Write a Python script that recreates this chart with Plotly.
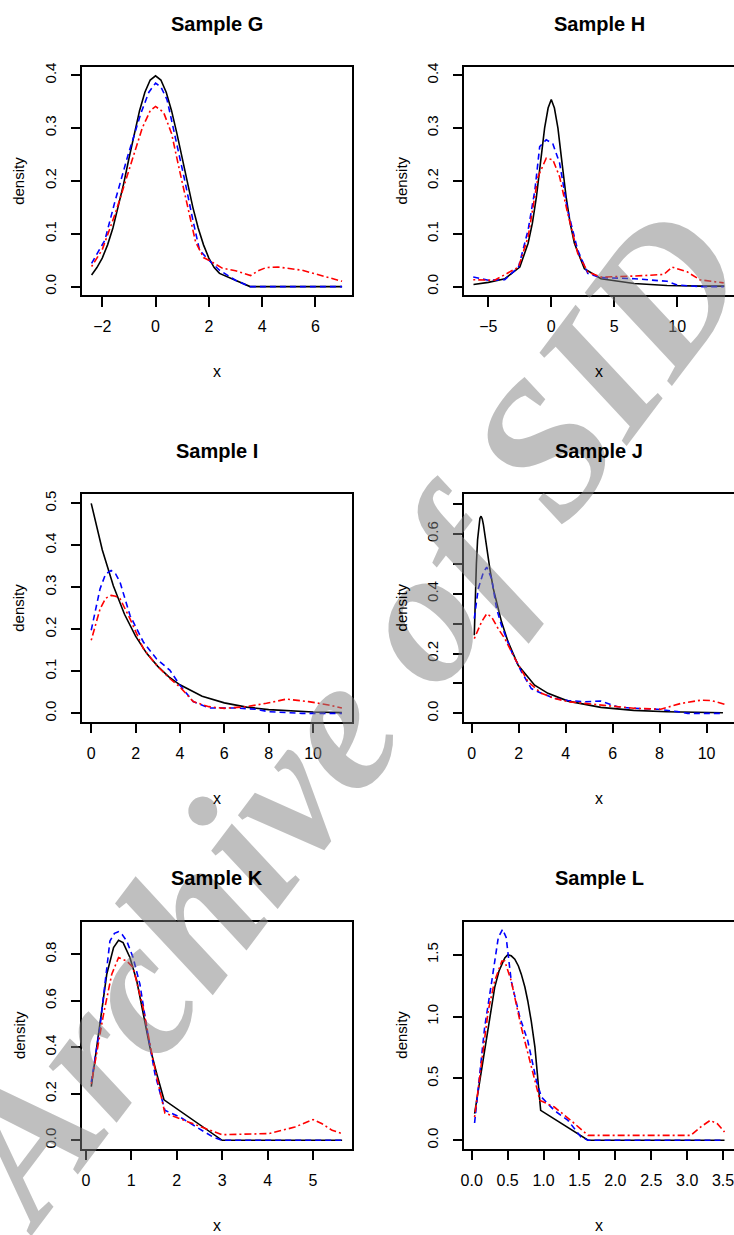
import plotly.graph_objects as go

# Sample G
g_true_x = [-2.4, -2.2, -2.0, -1.8, -1.6, -1.4, -1.2, -1.0, -0.8, -0.6, -0.4, -0.2, 0.0,
            0.2, 0.4, 0.6, 0.8, 1.0, 1.2, 1.4, 1.6, 1.8, 2.0, 2.2, 2.4, 3.55, 7.0]
g_true = [0.022, 0.036, 0.054, 0.079, 0.111, 0.150, 0.194, 0.242, 0.290, 0.333, 0.368, 0.391, 0.399,
          0.391, 0.368, 0.333, 0.290, 0.242, 0.194, 0.150, 0.111, 0.079, 0.054, 0.036, 0.025, 0.0, 0.0]
g_blue_x = [-2.4, -1.9, -1.54, -1.05, -0.55, -0.25, 0.0, 0.2, 0.43, 0.8, 1.1, 1.4, 1.65, 2.0, 2.4, 3.0, 3.55,
            5.0, 7.0]
g_blue = [0.044, 0.088, 0.158, 0.246, 0.328, 0.368, 0.385, 0.378, 0.354, 0.27, 0.20, 0.126, 0.069, 0.05, 0.031,
          0.012, 0.0, 0.0, 0.0]
g_red_x = [-2.4, -2.0, -1.5, -1.0, -0.5, -0.2, 0.0, 0.3, 0.6, 0.9, 1.2, 1.5, 1.8, 2.0, 2.5, 3.0, 3.57,
           3.85, 4.15, 4.6, 5.5, 6.0, 6.5, 7.0]
g_red = [0.038, 0.07, 0.14, 0.222, 0.30, 0.333, 0.341, 0.33, 0.29, 0.22, 0.15, 0.085, 0.055, 0.05, 0.035, 0.03,
         0.021, 0.03, 0.036, 0.037, 0.031, 0.024, 0.017, 0.010]

# Sample H
h_true_x = [-6.18, -5.0, -3.68, -2.5, -1.84, -1.5, -1.18, -0.8, -0.53, -0.25, 0.0, 0.25, 0.53, 0.8, 1.18,
            1.5, 1.84, 2.63, 3.95, 6.58, 9.2, 12.0, 13.75]
h_true = [0.004, 0.008, 0.015, 0.037, 0.082, 0.12, 0.17, 0.245, 0.30, 0.338, 0.354, 0.338, 0.30, 0.245, 0.17,
          0.12, 0.082, 0.034, 0.015, 0.006, 0.002, 0.001, 0.001]
h_blue_x = [-6.2, -5.0, -3.7, -2.6, -1.84, -1.3, -0.92, -0.4, 0.13, 0.66, 1.3, 2.1, 2.9, 3.95, 6.6, 9.2, 10.0,
            11.8, 13.7]
h_blue = [0.018, 0.012, 0.013, 0.037, 0.107, 0.183, 0.265, 0.278, 0.27, 0.234, 0.145, 0.069, 0.025, 0.017, 0.015,
          0.010, 0.003, 0.0, 0.0]
h_red_x = [-6.2, -4.5, -2.6, -1.84, -1.05, -0.4, 0.13, 0.66, 1.3, 2.1, 2.9, 3.95, 6.6, 8.95, 9.6, 10.8, 11.8,
           13.7]
h_red = [0.013, 0.012, 0.037, 0.094, 0.208, 0.243, 0.24, 0.208, 0.139, 0.063, 0.028, 0.018, 0.02, 0.023, 0.037,
         0.028, 0.013, 0.007]

# Sample I
i_true_x = [0.0, 0.5, 1.0, 1.5, 2.0, 2.5, 3.0, 3.5, 4.0, 5.0, 6.0, 7.0, 8.0, 9.0, 10.0, 11.3]
i_true = [0.5, 0.389, 0.303, 0.236, 0.184, 0.143, 0.112, 0.087, 0.068, 0.041, 0.025, 0.015, 0.009, 0.0056,
          0.0034, 0.0018]
i_blue_x = [0.0, 0.4, 0.65, 0.9, 1.1, 1.3, 1.75, 2.35, 2.94, 3.54, 4.0, 4.6, 5.3, 6.5, 7.4, 8.0, 9.5, 11.3]
i_blue = [0.198, 0.297, 0.332, 0.340, 0.332, 0.312, 0.233, 0.17, 0.13, 0.103, 0.067, 0.028, 0.013, 0.013, 0.010,
          0.004, 0.0, 0.0]
i_red_x = [0.0, 0.4, 0.65, 0.9, 1.1, 1.3, 1.75, 2.35, 2.94, 3.54, 4.0, 4.6, 5.3, 6.0, 7.0, 7.9, 8.8, 9.8,
           10.7, 11.3]
i_red = [0.174, 0.249, 0.274, 0.281, 0.279, 0.273, 0.225, 0.154, 0.115, 0.083, 0.063, 0.028, 0.016, 0.012,
         0.016, 0.024, 0.034, 0.028, 0.02, 0.013]

# Sample J
j_true_x = [0.11, 0.15, 0.2, 0.25, 0.3, 0.35, 0.4, 0.45, 0.5, 0.55, 0.64, 0.78, 0.92, 1.1, 1.27, 1.55, 1.98,
            2.68, 3.25, 4.1, 5.5, 6.9, 8.3, 10.7]
j_true = [0.261, 0.38, 0.50, 0.58, 0.63, 0.652, 0.659, 0.65, 0.63, 0.60, 0.55, 0.48, 0.417, 0.355, 0.306,
          0.239, 0.161, 0.094, 0.067, 0.041, 0.02, 0.01, 0.0056, 0.002]
j_blue_x = [0.11, 0.28, 0.5, 0.64, 0.85, 1.06, 1.27, 1.7, 2.12, 2.54, 2.97, 3.53, 4.1, 4.8, 5.5, 6.2, 6.9, 7.9,
            8.76, 9.2, 10.7]
j_blue = [0.317, 0.417, 0.472, 0.489, 0.45, 0.35, 0.294, 0.206, 0.139, 0.083, 0.067, 0.05, 0.043, 0.039, 0.041,
          0.022, 0.017, 0.014, 0.006, 0.0, 0.0]
j_red_x = [0.11, 0.42, 0.64, 0.85, 1.13, 1.41, 1.84, 2.4, 2.97, 3.53, 4.1, 5.5, 6.9, 8.05, 8.9, 9.75, 10.2,
           10.8]
j_red = [0.25, 0.306, 0.333, 0.322, 0.283, 0.25, 0.183, 0.106, 0.067, 0.05, 0.039, 0.028, 0.017, 0.014, 0.033,
         0.044, 0.043, 0.03]

# Sample K
k_true_x = [0.12, 0.31, 0.46, 0.61, 0.72, 0.82, 0.97, 1.12, 1.26, 1.41, 1.56, 1.72, 3.0, 5.64]
k_true = [0.231, 0.514, 0.714, 0.829, 0.86, 0.85, 0.786, 0.686, 0.543, 0.4, 0.286, 0.174, 0.0, 0.0]
k_blue_x = [0.12, 0.31, 0.53, 0.63, 0.72, 0.8, 0.9, 1.04, 1.19, 1.34, 1.52, 1.74, 2.07, 2.5, 2.8, 3.0, 5.64]
k_blue = [0.25, 0.486, 0.857, 0.89, 0.897, 0.885, 0.857, 0.786, 0.671, 0.486, 0.286, 0.129, 0.1, 0.05, 0.014,
          0.0, 0.0]
k_red_x = [0.12, 0.39, 0.57, 0.72, 0.9, 1.04, 1.26, 1.48, 1.74, 2.07, 2.58, 3.0, 4.04, 4.6, 5.0, 5.2, 5.42,
           5.64]
k_red = [0.243, 0.543, 0.714, 0.786, 0.771, 0.743, 0.571, 0.343, 0.117, 0.093, 0.054, 0.024, 0.029, 0.057,
         0.089, 0.071, 0.043, 0.029]

# Sample L
l_true_x = [0.04, 0.1, 0.14, 0.2, 0.23, 0.3, 0.32, 0.38, 0.42, 0.46, 0.5, 0.55, 0.6, 0.65, 0.69, 0.74, 0.78,
            0.83, 0.88, 0.92, 0.96, 1.62, 3.52]
l_true = [0.215, 0.44, 0.59, 0.81, 0.914, 1.17, 1.237, 1.37, 1.425, 1.475, 1.5, 1.492, 1.465, 1.41, 1.344,
          1.24, 1.129, 0.96, 0.753, 0.52, 0.242, 0.0, 0.0]
l_blue_x = [0.04, 0.09, 0.18, 0.28, 0.37, 0.43, 0.48, 0.55, 0.67, 0.78, 0.9, 0.97, 1.15, 1.34, 1.52, 1.62, 3.52]
l_blue = [0.14, 0.43, 0.914, 1.29, 1.64, 1.707, 1.64, 1.29, 0.995, 0.806, 0.484, 0.35, 0.242, 0.161, 0.027, 0.0,
          0.0]
l_red_x = [0.04, 0.14, 0.23, 0.32, 0.42, 0.46, 0.55, 0.69, 0.83, 0.95, 1.15, 1.38, 1.62, 1.8, 3.05, 3.19, 3.32,
           3.42, 3.52]
l_red = [0.188, 0.618, 1.048, 1.29, 1.45, 1.45, 1.29, 0.914, 0.591, 0.323, 0.269, 0.161, 0.04, 0.04, 0.04, 0.108,
         0.161, 0.134, 0.067]

titles = ["Sample G", "Sample H", "Sample I", "Sample J", "Sample K", "Sample L"]
MINUS = "\u2212"

panels = [
    dict(true=(g_true_x, g_true), blue=(g_blue_x, g_blue), red=(g_red_x, g_red),
         xr=[-2.776, 7.376], yr=[-0.016, 0.416],
         xt=[-2, 0, 2, 4, 6], xl=[MINUS + "2", "0", "2", "4", "6"],
         yt=[0, 0.1, 0.2, 0.3, 0.4], yl=["0.0", "0.1", "0.2", "0.3", "0.4"]),
    dict(true=(h_true_x, h_true), blue=(h_blue_x, h_blue), red=(h_red_x, h_red),
         xr=[-6.92, 14.52], yr=[-0.016, 0.416],
         xt=[-5, 0, 5, 10], xl=[MINUS + "5", "0", "5", "10"],
         yt=[0, 0.1, 0.2, 0.3, 0.4], yl=["0.0", "0.1", "0.2", "0.3", "0.4"]),
    dict(true=(i_true_x, i_true), blue=(i_blue_x, i_blue), red=(i_red_x, i_red),
         xr=[-0.435, 11.76], yr=[-0.0197, 0.522],
         xt=[0, 2, 4, 6, 8, 10], xl=["0", "2", "4", "6", "8", "10"],
         yt=[0, 0.1, 0.2, 0.3, 0.4, 0.5], yl=["0.0", "0.1", "0.2", "0.3", "0.4", "0.5"]),
    dict(true=(j_true_x, j_true), blue=(j_blue_x, j_blue), red=(j_red_x, j_red),
         xr=[-0.32, 11.17], yr=[-0.0277, 0.733],
         xt=[0, 2, 4, 6, 8, 10], xl=["0", "2", "4", "6", "8", "10"],
         yt=[0, 0.1, 0.2, 0.3, 0.4, 0.5, 0.6, 0.7], yl=["0.0", "", "0.2", "", "0.4", "", "0.6", ""]),
    dict(true=(k_true_x, k_true), blue=(k_blue_x, k_blue), red=(k_red_x, k_red),
         xr=[-0.094, 5.86], yr=[-0.0356, 0.94],
         xt=[0, 1, 2, 3, 4, 5], xl=["0", "1", "2", "3", "4", "5"],
         yt=[0, 0.2, 0.4, 0.6, 0.8], yl=["0.0", "0.2", "0.4", "0.6", "0.8"]),
    dict(true=(l_true_x, l_true), blue=(l_blue_x, l_blue), red=(l_red_x, l_red),
         xr=[-0.105, 3.652], yr=[-0.067, 1.768],
         xt=[0, 0.5, 1, 1.5, 2, 2.5, 3, 3.5], xl=["0.0", "0.5", "1.0", "1.5", "2.0", "2.5", "3.0", "3.5"],
         yt=[0, 0.5, 1.0, 1.5], yl=["0.0", "0.5", "1.0", "1.5"]),
]

W, H = 734, 1235
col_px = [(78, 350), (462.7, 734)]
row_px = [(63, 292), (491.7, 720), (920.7, 1148.3)]
title_y = [20, 448.3, 876.7]
FONT = "Liberation Sans, Arial, sans-serif"

fig = go.Figure()
annotations = []

# watermark (semi-transparent grey so the curves show through)
annotations.append(dict(text="<b><i>Archive of SID</i></b>", x=340 / W, y=1 - 715 / H,
                        xref="paper", yref="paper", xanchor="center", yanchor="middle",
                        showarrow=False, textangle=-53,
                        font=dict(family="Liberation Serif, Times New Roman, serif", size=192,
                                  color="rgba(128,128,128,0.5)")))

for k, p in enumerate(panels):
    r, c = divmod(k, 2)
    n = k + 1
    xa = "x" if n == 1 else f"x{n}"
    ya = "y" if n == 1 else f"y{n}"
    x0, x1 = col_px[c]
    top, bot = row_px[r]

    fig.add_trace(go.Scatter(x=p["true"][0], y=p["true"][1], mode="lines", xaxis=xa, yaxis=ya,
                             line=dict(color="black", width=1.6), showlegend=False))
    fig.add_trace(go.Scatter(x=p["blue"][0], y=p["blue"][1], mode="lines", xaxis=xa, yaxis=ya,
                             line=dict(color="#0000ff", width=1.6, dash="6px,4px"), showlegend=False))
    fig.add_trace(go.Scatter(x=p["red"][0], y=p["red"][1], mode="lines", xaxis=xa, yaxis=ya,
                             line=dict(color="#ff0000", width=1.6, dash="2px,3px,7px,3px"), showlegend=False))

    xkey = "xaxis" if n == 1 else f"xaxis{n}"
    ykey = "yaxis" if n == 1 else f"yaxis{n}"
    fig.update_layout(**{
        xkey: dict(domain=[x0 / W, min(x1 / W, 1.0)], anchor=ya, range=p["xr"],
                   tickvals=p["xt"], ticktext=p["xl"], showgrid=False, zeroline=False,
                   showline=True, mirror=True, linecolor="black", linewidth=1.5,
                   ticks="outside", ticklen=10, tickwidth=1.5, tickcolor="black",
                   ticklabelstandoff=6, ticklabeloverflow="allow",
                   tickfont=dict(family=FONT, size=16, color="black")),
        ykey: dict(domain=[1 - bot / H, 1 - top / H], anchor=xa, range=p["yr"],
                   tickvals=p["yt"], ticktext=p["yl"], showgrid=False, zeroline=False,
                   showline=True, mirror=(c == 0), linecolor="black", linewidth=1.5,
                   ticks="outside", ticklen=9, tickwidth=1.5, tickcolor="black", tickangle=-90,
                   ticklabelstandoff=9, ticklabeloverflow="allow",
                   tickfont=dict(family=FONT, size=15, color="black")),
    })

    cx = (x0 + x1) / 2
    annotations.append(dict(text="<b>" + titles[k] + "</b>", x=cx / W, y=1 - title_y[r] / H,
                            xref="paper", yref="paper", xanchor="center", yanchor="middle",
                            showarrow=False, font=dict(family=FONT, size=20, color="black")))
    annotations.append(dict(text="x", x=cx / W, y=1 - (bot + 77) / H, xref="paper", yref="paper",
                            xanchor="center", yanchor="middle", showarrow=False,
                            font=dict(family=FONT, size=16, color="black")))
    annotations.append(dict(text="density", x=(x0 - 63) / W, y=1 - (top + bot) / 2 / H,
                            xref="paper", yref="paper", xanchor="center", yanchor="middle",
                            showarrow=False, textangle=-90,
                            font=dict(family=FONT, size=15, color="black")))

fig.update_layout(width=W, height=H, margin=dict(l=0, r=0, t=0, b=0),
                  paper_bgcolor="white", plot_bgcolor="rgba(0,0,0,0)",
                  annotations=annotations)

fig.write_html("out.html", config={"displayModeBar": False},
               post_script="document.body.style.margin='0';")
